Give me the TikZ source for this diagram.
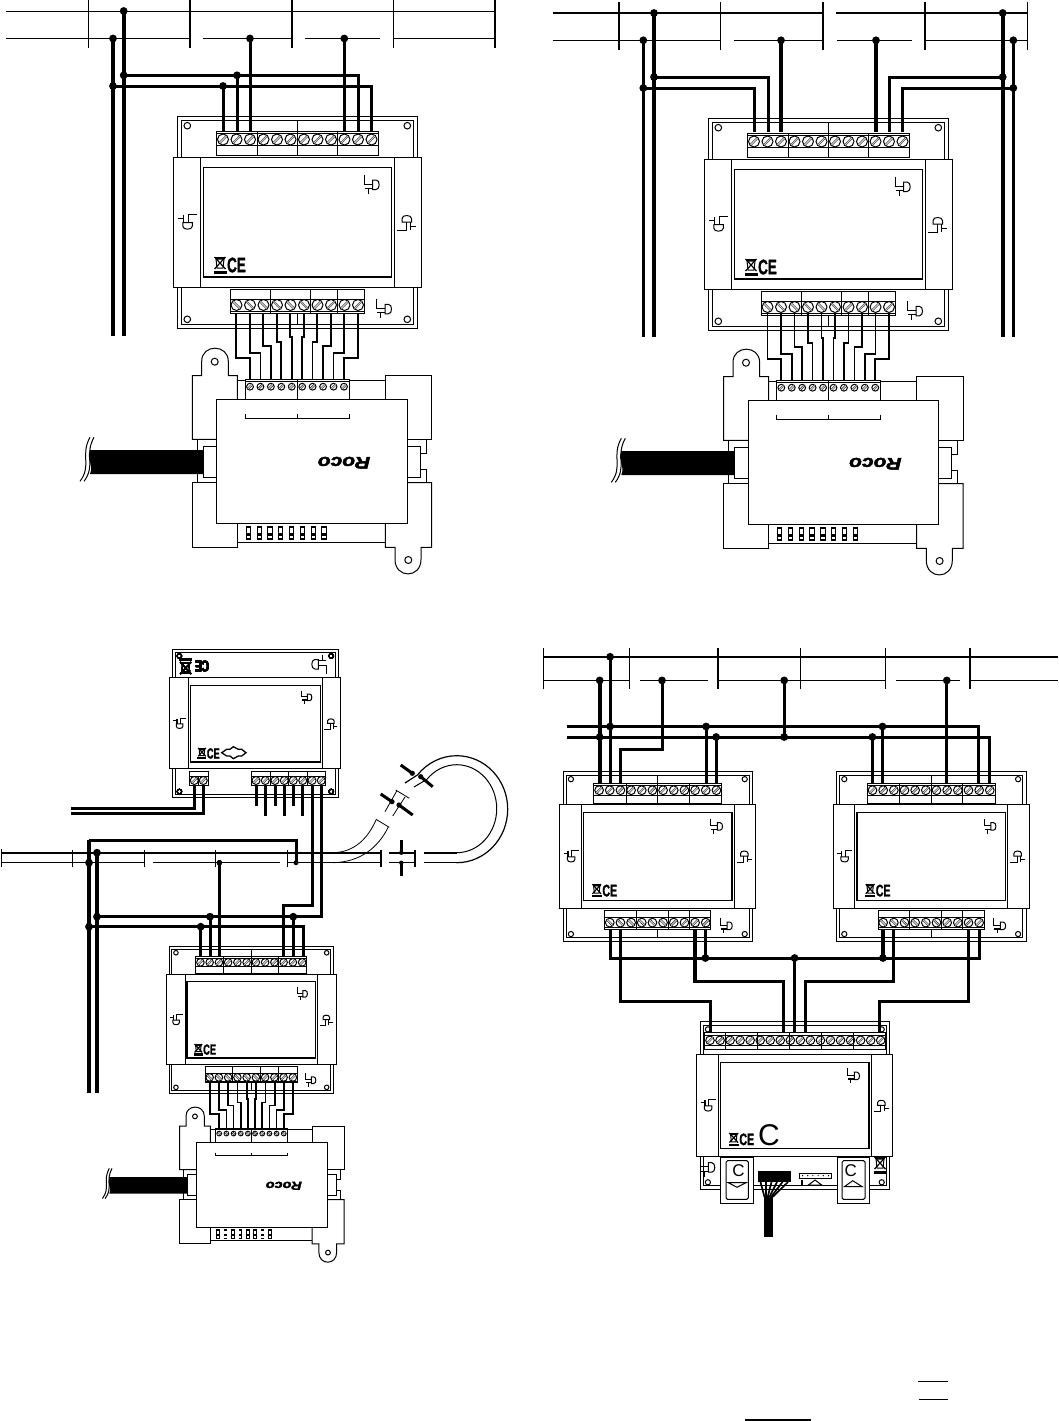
\documentclass[tikz,border=0pt]{standalone}
\usepackage{fontspec}
\newfontfamily\markfont{Liberation Sans}
\newfontfamily\cefont[FakeBold=1.5]{Liberation Sans Bold}
\newfontfamily\logofont[FakeBold=2.5]{Liberation Sans Bold Italic}
\tikzset{
  line/.style={line width=1pt},
  rail/.style={line width=1.2pt},
  railb/.style={line width=1.8pt},
  lead/.style={line width=1.7pt},
  wire/.style={line width=3pt},
  wireb/.style={line width=3.6pt},
  slot/.style={double=gray!45,double distance=1.2pt,line width=.4pt},
  cemark/.style={inner sep=0pt,transform shape,xscale=.64,font=\cefont\fontsize{21}{21}\selectfont},
  logomark/.style={inner sep=0pt,transform shape,rotate=180,yscale=.8,font=\logofont\fontsize{21}{21}\selectfont},
  lettermark/.style={inner sep=0pt,font=\markfont\fontsize{#1}{#1}\selectfont},
}
% junction dot
\newcommand{\jn}[2]{\fill (#1,#2) circle (3.9);}
% screw, slot leaning right or left
\newcommand{\screw}[3]{\draw[line,fill=white] (#1,#2) circle (#3);
  \draw[slot] ({#1-.62*#3},{#2+.62*#3}) -- ({#1+.62*#3},{#2-.62*#3});}
\newcommand{\screwb}[3]{\draw[line,fill=white] (#1,#2) circle (#3);
  \draw[slot] ({#1-.62*#3},{#2-.62*#3}) -- ({#1+.62*#3},{#2+.62*#3});}
% latch symbol
\newcommand{\ldsym}[3]{\begin{scope}[shift={(#1,#2)},rotate=#3]
    \draw[line] (-8.3,-9) -- (-8.3,0) -- (0,0);
    \draw[line] (0,-4) -- (3.5,-4) .. controls (7.5,-4) and (7.5,5.5) .. (3.5,5.5) -- (0,5.5) -- cycle;
    \draw[line width=1.3pt] (-7.7,4.5) -- (0,4.5);
    \draw[line] (-4.3,4.5) -- (-4.3,10);
  \end{scope}}
% crossed bin
\newcommand{\binsym}[3]{\begin{scope}[shift={(#1,#2)},rotate=#3]
    \draw[line] (-4,-6) -- (-3,3) -- (3,3) -- (4,-6) -- cycle;
    \draw[line width=1.2pt] (-5.5,-8) -- (5.5,4);
    \draw[line width=1.2pt] (5.5,-8) -- (-5.5,4);
    \draw[line width=1.2pt] (-5,-7) -- (5,-7);
    \fill (-6.5,5.5) rectangle (6.5,8.5);
  \end{scope}}
% bus module, drawn round its centre
\newcommand{\casing}{
  \draw[line] (-120,-105.7) rectangle (120,106);
  \draw[line] (-116,-101.5) rectangle (116,102);
  \foreach \hx in {-110,110} {
    \draw[line] (\hx,-96.3) circle (3.3);
    \draw[line] (\hx,97.3) circle (3.3);
  }
  \draw[line,fill=white] (-124,-65) rectangle (124,65);
  \draw[line] (-96.7,-65) -- (-96.7,65);
  \draw[line] (96.7,-65) -- (96.7,65);
  \draw[line width=1.2pt] (-94,-54.5) rectangle (94,55);
  \ldsym{75.4}{-38}{0}
  \ldsym{-109}{0.7}{-90}
  \ldsym{108.7}{0}{90}
}
\newcommand{\topstrip}{
  \draw[line] (0,-101.5) -- (0,-90.5);
  \draw[line,fill=white] (-81,-90.5) rectangle (81,-66.5);
  \draw[line] (-81,-88.5) -- (81,-88.5);
  \draw[line] (-81,-76.5) -- (81,-76.5);
  \foreach \i in {0,...,11} { \screw{-74.3+13.5*\i}{-82.5}{5.5} }
  \foreach \sx in {-40,0,40} { \draw[line] (\sx,-90.5) -- (\sx,-66.5); }
}
\newcommand{\botstrip}{
  \draw[line] (0,91) -- (0,102);
  \draw[line,fill=white] (-67,67.5) rectangle (67,91);
  \draw[line] (-67,77) -- (67,77);
  \draw[line] (-67,89.5) -- (67,89.5);
  \foreach \i in {0,...,5} { \screwb{-60.8+13.5*\i}{83}{5.5} }
  \foreach \i in {6,...,9} { \screw{-60.8+13.5*\i}{83}{5.5} }
  \foreach \sx in {-27,13.2,40.2} { \draw[line] (\sx,67.5) -- (\sx,91); }
  \ldsym{87.7}{86.3}{0}
}
\newcommand{\cemarks}[1]{
  \binsym{-77.3}{43}{0}
  \node[cemark] (#1) at (-60.8,43) {CE};
}
% feeder unit, drawn round its centre, with its leads
\newcommand{\feeder}[1]{
  \foreach \i/\j in {0/-103.3,1/-108.6,2/-115.3,3/-119.6,4/-124.6,5/-124.6,6/-119.6,7/-115.3,8/-108.6,9/-103.3}
    \draw[lead] ({-75.7+13.5*\i},-148.3) -- ({-75.7+13.5*\i},\j) -- ({-62+10.44*\i},\j) -- ({-62+10.44*\i},-82);
  % upper blocks
  \draw[line] (-95.3,-22) -- (-119.7,-22) -- (-119.7,-85.6) -- (-110.3,-85.6) -- (-110.3,-100)
    .. controls (-110.3,-117.5) and (-83.7,-117.5) .. (-83.7,-100) -- (-83.7,-85.6) -- (-74.7,-85.6) -- (-74.7,-62);
  \draw[line] (-97.3,-99.6) circle (3.5);
  \draw[line] (73.3,-62) -- (73.3,-85.6) -- (119.7,-85.6) -- (119.7,-22) -- (95.3,-22);
  \draw[line] (-74.7,-81) -- (73.3,-81);
  % lower blocks
  \draw[line] (-95.3,21.4) -- (-119.7,21.4) -- (-119.7,86) -- (-74.7,86) -- (-74.7,62);
  \draw[line] (73.3,62) -- (73.3,86) -- (83,86) -- (83,98)
    .. controls (83,117.5) and (109,117.5) .. (109,98) -- (109,86) -- (119.7,86) -- (119.7,21.4) -- (95.3,21.4);
  \draw[line] (96.3,98.7) circle (3.5);
  \draw[line] (-74.7,81) -- (73.3,81);
  % sides
  \draw[line] (-114.7,-22) -- (-114.7,21.4);
  \draw[line,fill=white] (-108.7,-15) rectangle (-95.3,15.7);
  \draw[line,fill=white] (95.3,-15) rectangle (108.3,15.7);
  \draw[line] (114.3,-22) -- (114.3,-8.3) -- (108.3,-8.3);
  \draw[line] (114.3,21.4) -- (114.3,8) -- (108.3,8);
  % terminals
  \draw[line,fill=white] (-66.7,-82) rectangle (37.3,-62);
  \draw[line] (-66.7,-80) -- (37.3,-80);
  \foreach \i in {0,...,9} { \screw{-62+10.44*\i}{-74.6}{3.4} }
  \draw[line] (-14.7,-82) -- (-14.7,-62);
  \draw[line,fill=white] (-95.3,-62) rectangle (95.3,62);
  \draw[line] (-67,-47) -- (-67,-43) -- (37.3,-43) -- (37.3,-47);
  \draw[line width=1.4pt] (-14.7,-47) -- (-14.7,-43);
  % switches
  \foreach \i in {0,...,7} {
    \fill ({-66.3+10.8*\i},64.7) rectangle ({-61+10.8*\i},78.7);
    \fill[white] ({-65.3+10.8*\i},66.7) rectangle ({-62+10.8*\i},72);
    \fill[white] ({-65.3+10.8*\i},74.5) rectangle ({-62+10.8*\i},77);
  }
  \node[logomark] (#1) at (32,1.4) {Roco};
  % cable with its break
  \fill (-222,-11.3) .. controls (-226,-2) and (-218,3) .. (-222,12.7) -- (-108.7,12.7) -- (-108.7,-11.3) -- cycle;
  \draw[line] (-222,-24) .. controls (-232,-6) and (-220,4) .. (-232,20);
  \draw[line] (-218,-24) .. controls (-228,-6) and (-216,4) .. (-228,20);
}
\begin{document}
\begin{tikzpicture}[x=1pt,y=-1pt]
  \useasboundingbox (0,0) rectangle (1058,1421);
  % top left, rails
  \draw[rail] (6,11.5) -- (495,11.5);
  \foreach \a/\b in {6/190,203/292,305/380,393.3/495} \draw[rail] (\a,38.5) -- (\b,38.5);
  \foreach \tx in {88.5,393.3} \draw[rail] (\tx,0) -- (\tx,48.5);
  \foreach \tx in {190,292,495} \draw[railb] (\tx,0) -- (\tx,48.5);
  \begin{scope}[shift={(297.3,222)}]
    \casing \topstrip \botstrip \cemarks{cea}
  \end{scope}
  \begin{scope}[shift={(312,461.3)}]
    \feeder{logoa}
  \end{scope}
  \draw[wireb] (113,38.5) -- (113,335.5);
  \draw[wireb] (123.7,11) -- (123.7,335.5);
  \draw[wire] (123.7,75.3) -- (358,75.3) -- (358,131);
  \draw[wire] (113,86) -- (371.5,86) -- (371.5,131);
  \foreach \wx/\wy in {223/86,237/75.3,250/38.5,344.3/38.5} \draw[wire] (\wx,\wy) -- (\wx,131);
  \foreach \jx/\jy in {123.7/11,113/38.5,250/38.5,344.3/38.5,123.7/75.3,113/86,237/75.3,223/86} \jn{\jx}{\jy}
  % top right, rails
  \draw[railb] (553,13) -- (822.7,13);
  \draw[railb] (836,13) -- (1027.7,13);
  \foreach \a/\b in {553/720.3,734/822.7,837/911.7,925/1027.7} \draw[rail] (\a,40.3) -- (\b,40.3);
  \foreach \tx in {720.3,1027.7} \draw[rail] (\tx,2) -- (\tx,50);
  \foreach \tx in {619,822.7,925} \draw[railb] (\tx,2) -- (\tx,50);
  \begin{scope}[shift={(828.3,224)}]
    \casing \topstrip \botstrip \cemarks{ceb}
  \end{scope}
  \begin{scope}[shift={(843.3,462.3)}]
    \feeder{logob}
  \end{scope}
  \foreach \wx/\wy in {643.3/40.3,654/13,1002.7/13,1013.3/40.3} \draw[wireb] (\wx,\wy) -- (\wx,337);
  \draw[wire] (654,77) -- (768,77) -- (768,132);
  \draw[wire] (643.3,88) -- (754,88) -- (754,132);
  \draw[wire] (1002.7,77) -- (889,77) -- (889,132);
  \draw[wire] (1013.3,88) -- (902.3,88) -- (902.3,132);
  \draw[wireb] (781,40.3) -- (781,132);
  \draw[wireb] (876,40.3) -- (876,132);
  \foreach \jx/\jy in {654/13,1002.7/13,643.3/40.3,781/40.3,876/40.3,1013.3/40.3,654/77,1002.7/77,643.3/88,1013.3/88} \jn{\jx}{\jy}
  % bottom left, upper module
  \begin{scope}[shift={(255.3,723.4)},xscale=.69,yscale=.70]
    \casing
    \cemarks{cec}
  \end{scope}
  \binsym{185.7}{666}{180}
  \node[cemark,scale=.75,rotate=180] (cec2) at (202,666) {CE};
  \ldsym{318.3}{665}{180}
  \draw[line width=1.3pt] (221.7,752.7) -- (226.7,749.3) -- (230,749.3) -- (233.3,746.7) -- (238.3,749.3) -- (241.7,749.3) -- (246,752.7)
    -- (241.7,756) -- (238.3,756) -- (233.3,758.7) -- (230,756) -- (226.7,756) -- cycle;
  \draw[line,fill=white] (189.3,771) rectangle (208.3,785);
  \draw[line] (189.3,776) -- (208.3,776);
  \draw[line,fill=white] (251.3,771) rectangle (325.7,785);
  \draw[line] (251.3,776) -- (325.7,776);
  \foreach \sx in {194.3,203.3,256,265.3,275,284.3,293.3,302.7,312,321.3} { \screw{\sx}{780.5}{4} }
  \draw[line] (198.8,776) -- (198.8,785);
  \foreach \sx in {270.3,288.3,307.3} \draw[line] (\sx,771) -- (\sx,785);
  \foreach \sx/\ey in {256/805.7,265.3/815.7,275/805.7,284.3/815.7,293.3/805.7,302.7/815.7} \draw[wire] (\sx,785) -- (\sx,\ey);
  \draw[wire] (194.3,785) -- (194.3,808.3) -- (71,808.3);
  \draw[wire] (203.3,785) -- (203.3,813.3) -- (71,813.3);
  % bottom left, track
  \draw[railb] (1,852.7) -- (381,852.7);
  \foreach \a/\b in {1/144.3,153/280,287.3/381} \draw[rail] (\a,862.7) -- (\b,862.7);
  \foreach \tx in {72.3,144.3,215.7,287.3,381} \draw[rail] (\tx,850) -- (\tx,866.7);
  \draw[railb] (1.5,849) -- (1.5,866.7);
  \draw[railb] (389.3,852.7) -- (415,852.7);
  \draw[rail] (389.3,862.7) -- (415,862.7);
  \draw[railb] (415,850) -- (415,866.7);
  \draw[railb] (424,852.7) -- (456.7,852.7);
  \draw[rail] (424,862.7) -- (456.7,862.7);
  \draw[rail] (456.7,862.7) arc[start angle=90,end angle=-140,x radius=51,y radius=53.5] -- (405,783);
  \draw[line] (456.7,852.7) arc[start angle=90,end angle=-138,x radius=40,y radius=44] -- (414,787);
  \draw[line width=.8pt] (333.3,852.7) .. controls (355,852) and (368,838) .. (376,820);
  \draw[line width=.8pt] (333.3,862.7) .. controls (360,862) and (378,848) .. (388.3,827);
  \draw[line width=.8pt] (376,819.3) -- (389.3,827.3);
  \draw[line width=.8pt] (385,811.7) -- (396.7,791);
  \draw[line width=.8pt] (392.7,816) -- (405,797);
  \draw[line width=.8pt] (395.7,790) -- (409.3,798.3);
  \draw[wire] (380.7,794) -- (392,801.7);
  \draw[wire] (399,805) -- (412.7,815);
  \draw[wire] (400.7,765) -- (412.3,773.3);
  \draw[wire] (420.7,776.7) -- (432.7,786.7);
  \draw[wire] (401.3,840) -- (401.3,852.7);
  \draw[wire] (401.3,862.7) -- (401.3,875.7);
  \foreach \jx/\jy in {392/801.7,399/805,412.3/773.3,420.7/776.7} \fill (\jx,\jy) circle (2.6);
  \fill (401.3,852.7) circle (2.2);
  \fill (401.3,862.7) circle (2.2);
  % bottom left, lower module
  \begin{scope}[shift={(251.3,1019.7)},xscale=.685,yscale=.695]
    \casing \topstrip \botstrip \cemarks{ced}
  \end{scope}
  \begin{scope}[shift={(261.8,1184.8)},scale=.687]
    \feeder{logoc}
  \end{scope}
  \draw[wireb] (89,840) -- (89,1092.7);
  \draw[wireb] (97,852.7) -- (97,1092.7);
  \draw[wire] (89,840) -- (296,840) -- (296,862.7);
  \draw[wire] (312,785) -- (312,905.7) -- (283,905.7) -- (283,957);
  \draw[wire] (321.3,785) -- (321.3,916.7) -- (97,916.7);
  \draw[wire] (89,926.7) -- (303,926.7) -- (303,957);
  \foreach \wx/\wy in {200.7/926.7,210/916.7,219.3/862.3,293.3/916.7} \draw[wire] (\wx,\wy) -- (\wx,957);
  \foreach \jx/\jy in {97/852.7,89/862.7,97/916.7,89/926.7,210/916.7,200.7/926.7,293.3/916.7} \jn{\jx}{\jy}
  \fill (219.3,862.7) circle (2.5);
  \fill (296,862.7) circle (2.5);
  % bottom right, rails
  \draw[railb] (543.5,656.8) -- (1058,656.8);
  \foreach \a/\b in {543.5/629.3,640.1/708.1,717.9/885.2,896/960,970/1058} \draw[railb] (\a,680.4) -- (\b,680.4);
  \foreach \tx in {543.5,629.3,800.4,885.2} \draw[rail] (\tx,648.4) -- (\tx,688.8);
  \foreach \tx in {717.9,970} \draw[railb] (\tx,648.4) -- (\tx,688.8);
  \begin{scope}[shift={(657.8,856.2)},xscale=.79,yscale=.80]
    \casing \topstrip \botstrip \cemarks{cee}
  \end{scope}
  \begin{scope}[shift={(931.2,856.2)},xscale=.79,yscale=.80]
    \casing \topstrip \botstrip \cemarks{cef}
  \end{scope}
  \begin{scope}[shift={(794.8,1105.4)},scale=.79]
    \casing \cemarks{ceg}
  \end{scope}
  \node[lettermark=30] (bigc) at (769,1135.5) {C};
  % bottom right, last module
  \draw[line,fill=white] (704.7,1032.3) rectangle (885.7,1049);
  \draw[line] (704.7,1035.7) -- (885.7,1035.7);
  \draw[line] (704.7,1045) -- (885.7,1045);
  \foreach \i in {0,...,17} { \screw{710+10.04*\i}{1040.3}{4.3} }
  \foreach \sx in {725.7,757.7,789.7,821.7,853.7} \draw[line] (\sx,1032.3) -- (\sx,1049);
  \ldsym{708.3}{1166.7}{0}
  \binsym{880}{1165}{0}
  \draw[line,fill=white] (720.3,1157.3) rectangle (753.7,1203.3);
  \draw[line,rounded corners=1.5pt] (726,1160.7) rectangle (748.3,1199.3);
  \node[lettermark=17] (btna) at (738.5,1170.5) {C};
  \draw[line] (728.3,1182.7) -- (746,1182.7) -- (737,1187.3) -- cycle;
  \draw[line,fill=white] (837.3,1157.3) rectangle (869.3,1203.3);
  \draw[line,rounded corners=1.5pt] (842,1160.7) rectangle (865,1199.3);
  \node[lettermark=17] (btnb) at (850.7,1170.5) {C};
  \draw[line] (844.3,1186.7) -- (862.3,1186.7) -- (852.7,1180.7) -- cycle;
  \fill (758,1171) rectangle (790.7,1182.3);
  \foreach \i in {0,...,5} \draw[line width=1.7pt] ({760.5+5.5*\i},1182) -- ({764.5+1.6*\i},1197);
  \fill (763.7,1196) rectangle (772.7,1236.7);
  \draw[line] (799.3,1173.3) rectangle (831.3,1178);
  \foreach \i in {0,...,5} \fill ({802.5+5.2*\i},1175.6) circle (.7);
  \draw[line width=1.2pt] (802,1180) -- (802,1186);
  \draw[line] (808.3,1185) -- (821.7,1185) -- (815,1180) -- cycle;
  % bottom right, wires
  \draw[wire] (567,726.5) -- (978.8,726.5) -- (978.8,783.5);
  \draw[wire] (567,737) -- (989.6,737) -- (989.6,783.5);
  \draw[wireb] (599.7,680.4) -- (599.7,783.5);
  \draw[wire] (610.1,656.8) -- (610.1,783.5);
  \draw[wire] (662,680.4) -- (662,749.4) -- (620.2,749.4) -- (620.2,783.5);
  \foreach \wx/\wy in {706.1/726.5,716.2/737,872.4/737,882.5/726.5} \draw[wire] (\wx,\wy) -- (\wx,783.5);
  \draw[wire] (784.2,680.4) -- (784.2,737);
  \draw[wire] (946.8,680.4) -- (946.8,783.5);
  \draw[wire] (610.1,929) -- (610.1,958) -- (979.5,958) -- (979.5,929);
  \draw[wireb] (705.4,929) -- (705.4,958);
  \draw[wireb] (882.9,929) -- (882.9,958);
  \draw[wire] (620.2,929) -- (620.2,1001.8) -- (710.1,1001.8) -- (710.1,1032);
  \draw[wireb] (695,929) -- (695,981.6) -- (783.5,981.6) -- (783.5,1032);
  \draw[wireb] (794.6,958) -- (794.6,1032);
  \draw[wire] (893.6,929) -- (893.6,981.6) -- (805.1,981.6) -- (805.1,1032);
  \draw[wire] (968.7,929) -- (968.7,1001.8) -- (879.5,1001.8) -- (879.5,1032);
  \foreach \jx/\jy in {610.1/656.8,599.7/680.4,662/680.4,784.2/680.4,946.8/680.4,610.1/726.5,706.1/726.5,882.5/726.5,599.7/737,716.2/737,784.2/737,872.4/737,705.4/958,794.6/958,882.9/958} \jn{\jx}{\jy}
  % bars
  \draw[line] (918.3,1381.3) -- (948,1381.3);
  \draw[line] (919,1399.3) -- (948,1399.3);
  \draw[line width=2.2pt] (745,1419.8) -- (811,1419.8);
\end{tikzpicture}
\end{document}
